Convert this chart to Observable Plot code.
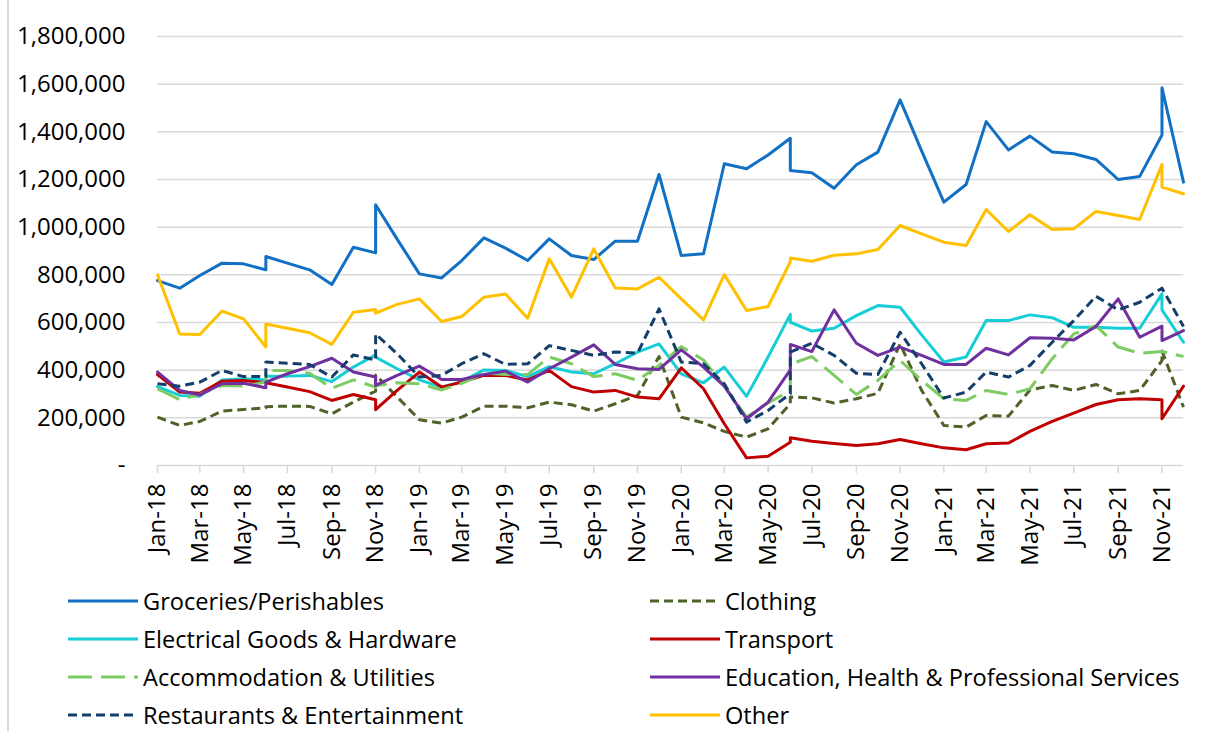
<!DOCTYPE html>
<html><head><meta charset="utf-8">
<script src="https://cdn.jsdelivr.net/npm/d3@7"></script>
<script src="https://cdn.jsdelivr.net/npm/@observablehq/plot@0.6"></script>
<style>
html,body{margin:0;padding:0;background:#fff;}
#wrap{position:relative;width:1206px;height:731px;overflow:hidden;font-family:"Open Sans",sans-serif;background:#fff;}
#frame{position:absolute;left:7px;top:0;width:0;height:731px;border-left:2px solid #d9d9d9;}
#chart{position:absolute;left:0;top:0;}
#legend{position:absolute;left:0;top:0;width:1206px;height:731px;}
.item{position:absolute;display:flex;align-items:center;font-size:23.6px;color:#000;height:38px;white-space:nowrap;}
.item svg{margin-right:5px;display:block}
</style></head>
<body><div id="wrap"><div id="frame"></div><div id="chart"></div><div id="legend"></div></div>
<script>
// Dates (some months hold two readings)
const dates = ["2018-01","2018-02","2018-03","2018-04","2018-05","2018-06","2018-06","2018-07","2018-08","2018-09","2018-10","2018-11","2018-11","2018-12",
"2019-01","2019-02","2019-03","2019-04","2019-05","2019-06","2019-07","2019-08","2019-09","2019-10","2019-11","2019-12",
"2020-01","2020-02","2020-03","2020-04","2020-05","2020-06","2020-06","2020-07","2020-08","2020-09","2020-10","2020-11","2020-12",
"2021-01","2021-02","2021-03","2021-04","2021-05","2021-06","2021-07","2021-08","2021-09","2021-10","2021-11","2021-11","2021-12"];

const groceries = [776000,744000,797000,849000,846000,821000,877000,849000,821000,759000,916000,892000,1094000,950000,804000,787000,860000,955000,912000,860000,951000,881000,864000,941000,941000,1221000,881000,888000,1266000,1245000,1303000,1373000,1238000,1228000,1163000,1262000,1315000,1534000,1320000,1105000,1179000,1443000,1324000,1382000,1315000,1308000,1284000,1200000,1213000,1387000,1585000,1189000];
const clothing = [203000,168000,185000,228000,235000,242000,247000,249000,248000,217000,266000,312000,380000,288000,192000,178000,203000,249000,249000,242000,266000,255000,228000,259000,294000,457000,203000,179000,143000,119000,154000,259000,287000,284000,262000,280000,303000,510000,315000,168000,161000,210000,207000,317000,336000,315000,340000,301000,315000,440000,480000,245000];
const electrical = [331000,294000,291000,359000,364000,359000,375000,375000,378000,352000,413000,464000,455000,406000,359000,329000,352000,401000,399000,373000,415000,392000,385000,427000,476000,510000,385000,347000,413000,290000,455000,634000,601000,564000,576000,629000,671000,664000,548000,434000,455000,608000,608000,632000,620000,580000,580000,576000,576000,720000,653000,517000];
const transport = [382000,308000,303000,354000,357000,347000,347000,329000,310000,273000,298000,276000,234000,315000,392000,329000,350000,378000,378000,359000,399000,331000,308000,315000,287000,280000,410000,322000,175000,32000,39000,98000,116000,102000,92000,84000,91000,109000,91000,74000,66000,91000,94000,143000,185000,220000,256000,276000,280000,276000,196000,333000];
const accommodation = [322000,276000,298000,336000,333000,350000,399000,399000,387000,324000,359000,329000,335000,347000,343000,317000,345000,387000,382000,382000,455000,427000,373000,385000,357000,420000,499000,443000,333000,203000,262000,315000,425000,457000,378000,298000,357000,441000,357000,280000,273000,315000,298000,322000,448000,552000,587000,497000,471000,478000,478000,457000];
const education = [392000,315000,296000,343000,345000,326000,350000,385000,415000,450000,392000,371000,336000,378000,417000,361000,361000,382000,396000,350000,406000,455000,506000,424000,406000,403000,485000,413000,333000,196000,266000,401000,508000,478000,653000,513000,462000,497000,462000,424000,424000,492000,464000,536000,534000,527000,583000,699000,538000,585000,524000,566000];
const restaurants = [343000,333000,350000,399000,373000,373000,434000,429000,424000,371000,464000,443000,552000,469000,371000,378000,427000,469000,424000,427000,503000,483000,462000,476000,471000,657000,434000,427000,343000,182000,231000,301000,476000,513000,462000,387000,382000,559000,427000,283000,308000,392000,371000,420000,517000,608000,710000,653000,685000,744000,744000,583000];
const other = [800000,552000,550000,648000,615000,497000,594000,576000,557000,508000,643000,655000,639000,676000,699000,604000,625000,706000,720000,618000,867000,706000,909000,745000,741000,790000,699000,611000,801000,650000,667000,855000,871000,857000,882000,888000,906000,1007000,972000,937000,923000,1074000,982000,1052000,990000,993000,1066000,1049000,1032000,1263000,1168000,1140000];

const seriesNames = ["Groceries/Perishables","Clothing","Electrical Goods & Hardware","Transport","Accommodation & Utilities","Education, Health & Professional Services","Restaurants & Entertainment","Other"];
const seriesValues = [groceries, clothing, electrical, transport, accommodation, education, restaurants, other];
const seriesColors = ["#1170C4","#4F6228","#17CDD6","#C00000","#7DCB63","#7030A0","#153F6B","#FFC000"];
const seriesDash = [null,"9,5",null,null,"24,9",null,"9,5",null];

const yTicks = [0,200000,400000,600000,800000,1000000,1200000,1400000,1600000,1800000];
const parse = d3.utcParse("%Y-%m");
const xDates = dates.map(parse);
const xStart = parse("2018-01"), xEnd = parse("2021-12");
const xTicks = d3.utcMonth.every(2).range(xStart, parse("2022-01"));

const lineMarks = seriesValues.map((vals, k) => {
  const rows = vals.map((v, i) => ({date: xDates[i], value: v}));
  return Plot.line(rows, {x: "date", y: "value", stroke: seriesColors[k], strokeWidth: 3,
    strokeDasharray: seriesDash[k] || undefined, strokeLinecap: seriesDash[k] ? "butt" : "round", strokeLinejoin: "round"});
});

const chart = Plot.plot({
  width: 1206, height: 582,
  marginLeft: 157, marginRight: 23, marginTop: 36, marginBottom: 117,
  x: {type: "utc", domain: [xStart, xEnd]},
  y: {domain: [0, 1800000]},
  style: {fontFamily: "'Open Sans', sans-serif", fontSize: "24px", color: "#000", background: "transparent"},
  marks: [
    Plot.gridY(yTicks, {stroke: "#d9d9d9", strokeOpacity: 1, strokeWidth: 1.5}),
    Plot.axisY(yTicks, {tickSize: 0, tickPadding: 32, label: null, tickFormat: d => d === 0 ? "-" : d3.format(",")(d)}),
    Plot.axisX(xTicks, {tickSize: 8, stroke: "#d9d9d9", strokeWidth: 1.5, fill: "#000", tickRotate: -90, tickPadding: 10, label: null, tickFormat: d3.utcFormat("%b-%y")}),
    ...lineMarks
  ]
});
document.getElementById("chart").appendChild(chart);

// Legend (row-major, two columns)
const legendCols = [68, 650];
const legendRows = [601, 639, 677, 715];
const leg = document.getElementById("legend");
seriesNames.forEach((name, k) => {
  const col = k % 2, row = Math.floor(k / 2);
  const div = document.createElement("div");
  div.className = "item";
  div.style.left = legendCols[col] + "px";
  div.style.top = (legendRows[row] - 19) + "px";
  const dash = seriesDash[k] ? `stroke-dasharray="${seriesDash[k]}"` : "";
  div.innerHTML = `<svg width="70" height="10"><line x1="0" y1="5" x2="70" y2="5" stroke="${seriesColors[k]}" stroke-width="3" ${dash}></line></svg><span>${name}</span>`;
  leg.appendChild(div);
});
</script>
</body></html>
